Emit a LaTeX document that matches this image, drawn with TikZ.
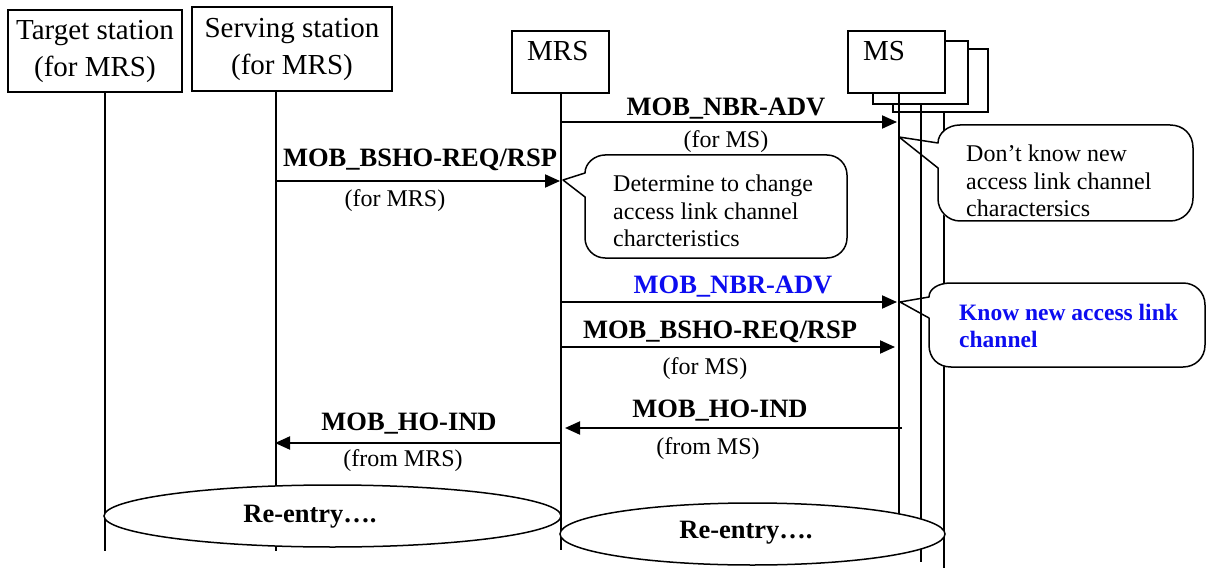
\documentclass[tikz,border=0pt]{standalone}
\usepackage{fontspec}
\setmainfont{Liberation Serif}
\usetikzlibrary{arrows.meta,shapes.geometric}
\definecolor{msgblue}{RGB}{12,12,240}
\tikzset{
  hdrbox/.style={draw, line width=1.5pt, fill=white, inner sep=0pt},
  hdr/.style={font=\fontsize{29}{37}\selectfont, align=center, inner sep=0pt},
  lifeline/.style={line width=1.3pt},
  arr/.style={line width=2pt, -{Triangle[length=15pt,width=13pt]}},
  msg/.style={font=\bfseries\fontsize{26.5}{30}\selectfont, inner sep=0pt, anchor=base},
  sub/.style={font=\fontsize{24}{28}\selectfont, inner sep=0pt, anchor=base},
  note/.style={font=\fontsize{24}{27.5}\selectfont, align=left, anchor=west, inner sep=0pt},
  bluenote/.style={font=\bfseries\fontsize{23.5}{27}\selectfont, text=msgblue, align=left, anchor=west, inner sep=0pt},
  callout/.style={line width=1.5pt, line join=round},
  reentry/.style={ellipse, draw, line width=1.5pt, fill=white, inner sep=0pt},
}
\begin{document}
\begin{tikzpicture}[x=1pt,y=-1pt]
\useasboundingbox (0,0) rectangle (1206,569);

% header boxes
\node[hdrbox, minimum width=174pt, minimum height=82pt] (tgt) at (95,51) {};
\node[hdr] (tgtT) at (95,51) {Target station\\(for MRS)};
\node[hdrbox, minimum width=200pt, minimum height=84pt] (srv) at (292,49) {};
\node[hdr] (srvT) at (292,49) {Serving station\\(for MRS)};
\node[hdrbox, minimum width=97pt, minimum height=62pt] (mrs) at (560.5,62) {};
\node[hdr, anchor=base west] (mrsT) at (527,61) {MRS};
\node[hdrbox, line width=1.3pt, minimum width=95pt, minimum height=63pt] (ms3) at (940.5,80.5) {};
\node[hdrbox, line width=1.3pt, minimum width=95pt, minimum height=63pt] (ms2) at (920.5,72.5) {};
\node[hdrbox, minimum width=97pt, minimum height=62pt] (ms1) at (896.5,62) {};
\node[hdr, anchor=base west] (msT) at (863,61) {MS};

% lifeline ends
\coordinate (tgtS) at (105,92);   \coordinate (tgtE) at (105,551);
\coordinate (srvS) at (276,91);   \coordinate (srvE) at (276,551);
\coordinate (mrsS) at (561,93);   \coordinate (mrsE) at (561,550);
\coordinate (ms1S) at (899,93);   \coordinate (ms1E) at (899,550);
\coordinate (ms2S) at (921,104);  \coordinate (ms2E) at (921,562);
\coordinate (ms3S) at (944,112);  \coordinate (ms3E) at (944,568);
\draw[lifeline] (tgtS) -- (tgtE);
\draw[lifeline] (srvS) -- (srvE);
\draw[lifeline] (mrsS) -- (mrsE);
\draw[lifeline] (ms1S) -- (ms1E);
\draw[lifeline] (ms2S) -- (ms2E);
\draw[lifeline] (ms3S) -- (ms3E);

% message end points
\coordinate (a1s) at (561,122); \coordinate (a1e) at (897,122);
\coordinate (a2s) at (276,181); \coordinate (a2e) at (560,181);
\coordinate (a3s) at (561,302); \coordinate (a3e) at (897,302);
\coordinate (a4s) at (561,347); \coordinate (a4e) at (895,347);
\coordinate (a5s) at (902,428); \coordinate (a5e) at (565,428);
\coordinate (a6s) at (561,443); \coordinate (a6e) at (275,443);

\draw[arr] (a1s) -- (a1e);
\draw[arr] (a2s) -- (a2e);
\draw[arr] (a3s) -- (a3e);
\draw[arr] (a4s) -- (a4e);
\draw[arr] (a5s) -- (a5e);
\draw[arr] (a6s) -- (a6e);

% message labels
\node[msg] (l1) at (726,116) {MOB\_NBR-ADV};
\node[sub] (l1b) at (726,148) {(for MS)};
\node[msg] (l2) at (420,167) {MOB\_BSHO-REQ/RSP};
\node[sub] (l2b) at (395,207) {(for MRS)};
\node[msg, text=msgblue] (l3) at (733,293) {MOB\_NBR-ADV};
\node[msg] (l4) at (720,338) {MOB\_BSHO-REQ/RSP};
\node[sub] (l4b) at (705,374) {(for MS)};
\node[msg] (l5) at (720,417) {MOB\_HO-IND};
\node[sub] (l5b) at (708,454) {(from MS)};
\node[msg] (l6) at (409,430) {MOB\_HO-IND};
\node[sub] (l6b) at (403,466) {(from MRS)};

% callout A
\fill[white, rounded corners=18pt] (585,155) rectangle (847,258);
\draw[callout] (563,180) -- (585,173) .. controls (585,163) and (595,155) .. (605,155) -- (827,155)
  .. controls (838,155) and (847,164) .. (847,175) -- (847,238)
  .. controls (847,249) and (838,258) .. (827,258) -- (605,258)
  .. controls (594,258) and (585,249) .. (585,238) -- (585,197) -- cycle;
\node[note] (nA) at (613,211) {Determine to change\\access link channel\\charcteristics};

% callout B
\fill[white, rounded corners=20pt] (938,125) rectangle (1193,221);
\draw[callout] (899,137) -- (938,143) .. controls (938,133) and (948,125) .. (960,125) -- (1170,125)
  .. controls (1183,125) and (1193,134) .. (1193,148) -- (1193,198)
  .. controls (1193,211) and (1183,221) .. (1170,221) -- (960,221)
  .. controls (948,221) and (938,211) .. (938,199) -- (938,168) -- cycle;
\node[note] (nB) at (966,181) {Don’t know new\\access link channel\\charactersics};

% callout C
\fill[white, rounded corners=20pt] (929,283) rectangle (1205,367);
\draw[callout] (900,302) -- (929,297) .. controls (929,289) and (938,283) .. (951,283) -- (1183,283)
  .. controls (1195,283) and (1205,292) .. (1205,305) -- (1205,345)
  .. controls (1205,358) and (1195,367) .. (1183,367) -- (951,367)
  .. controls (938,367) and (929,358) .. (929,345) -- (929,318) -- cycle;
\node[bluenote] (nC) at (959,326) {Know new access link\\channel};

% re-entry ellipses
\node[reentry, minimum width=457pt, minimum height=62pt] (re1) at (332.5,516) {};
\node[msg, anchor=center] (re1T) at (310,517) {Re-entry….};
\node[reentry, minimum width=385pt, minimum height=62pt] (re2) at (752.5,534) {};
\node[msg, anchor=center] (re2T) at (746,533) {Re-entry….};
\end{tikzpicture}
\end{document}
